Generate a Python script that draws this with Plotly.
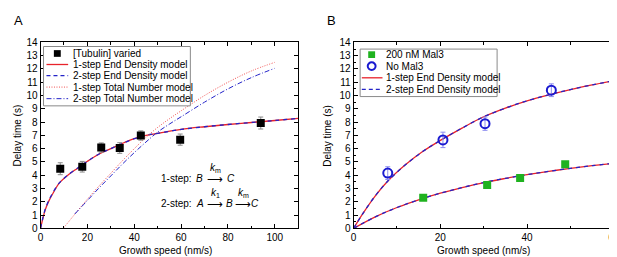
import plotly.graph_objects as go

W, H = 617, 257
FONT = "Arial"
RED = "#e8232b"
BLUE = "#2323c8"

# ---------------- Panel A data ----------------
a_speed = [8.4, 17.8, 25.9, 33.8, 42.8, 59.6, 94.0]
a_delay = [4.49, 4.64, 6.08, 6.05, 6.99, 6.68, 7.93]
a_err = [0.45, 0.4, 0.35, 0.4, 0.35, 0.42, 0.45]

a_ed_v = [0, 1, 2, 3.5, 5, 8, 12, 16, 20, 25, 30, 35, 40, 45, 50, 60, 70, 80, 90, 100, 110]
a_ed1_t = [0, 0.75, 1.4, 2.05, 2.55, 3.4, 4.05, 4.55, 5.05, 5.6, 6.0, 6.4, 6.75, 7.0, 7.15, 7.45, 7.65, 7.82, 7.97, 8.12, 8.28]
a_ed2_t = [0, 0.8, 1.45, 2.1, 2.6, 3.42, 4.06, 4.56, 5.05, 5.6, 6.0, 6.4, 6.75, 7.0, 7.15, 7.45, 7.65, 7.82, 7.97, 8.12, 8.28]

a_tn1_v = [9.7, 15, 20, 25, 30, 35, 40, 45, 50, 55, 60, 70, 80, 90, 100]
a_tn1_t = [0, 1.15, 2.2, 3.2, 4.15, 5.1, 6.0, 6.85, 7.6, 8.25, 8.85, 10.0, 11.0, 11.85, 12.5]

a_tn2_v = [14.6, 20, 25, 30, 35, 40, 45, 50, 55, 60, 70, 80, 90, 100]
a_tn2_t = [1.08, 2.1, 3.05, 3.95, 4.85, 5.7, 6.5, 7.25, 7.85, 8.4, 9.5, 10.5, 11.35, 12.05]

# ---------------- Panel B data ----------------
b_mal_speed = [16.05, 30.8, 38.4, 48.8]
b_mal_delay = [2.31, 3.27, 3.8, 4.83]
b_mal_err = [0.15, 0.15, 0.15, 0.15]

b_no_speed = [7.87, 20.6, 30.3, 45.6]
b_no_delay = [4.16, 6.66, 7.88, 10.4]
b_no_err = [0.48, 0.58, 0.5, 0.48]

b_no_v = [0, 2, 5, 8, 12, 16, 20, 25, 30, 35, 40, 45, 50, 55, 60]
b_no_t = [0, 1.05, 2.45, 3.6, 4.8, 5.8, 6.62, 7.55, 8.4, 9.05, 9.6, 10.05, 10.45, 10.8, 11.12]

b_mal_v = [0, 5, 10, 15, 20, 25, 30, 35, 40, 45, 50, 55, 60]
b_mal_t = [0, 0.87, 1.57, 2.15, 2.65, 3.07, 3.45, 3.76, 4.04, 4.29, 4.52, 4.72, 4.9]

legend_a = ["[Tubulin] varied", "1-step End Density model", "2-step End Density model",
            "1-step Total Number model", "2-step Total Number model"]
legend_b = ["200 nM Mal3", "No Mal3", "1-step End Density model", "2-step End Density model"]


def px(x):
    return x / W


def py(y):
    return 1 - y / H


fig = go.Figure()

# Panel A traces
fig.add_trace(go.Scatter(x=a_ed_v, y=a_ed1_t, mode="lines", line=dict(color=RED, width=1.3, shape="spline"),
                         xaxis="x", yaxis="y"))
fig.add_trace(go.Scatter(x=a_ed_v, y=a_ed2_t, mode="lines", line=dict(color=BLUE, width=1.3, dash="4px,4px", shape="spline"),
                         xaxis="x", yaxis="y"))
fig.add_trace(go.Scatter(x=a_tn1_v, y=a_tn1_t, mode="lines", line=dict(color="#f05050", width=1, dash="1px,1.5px", shape="spline"),
                         xaxis="x", yaxis="y"))
fig.add_trace(go.Scatter(x=a_tn2_v, y=a_tn2_t, mode="lines", line=dict(color=BLUE, width=1, dash="5px,2px,1px,2px", shape="spline"),
                         xaxis="x", yaxis="y"))
fig.add_trace(go.Scatter(x=a_speed, y=a_delay, mode="markers",
                         marker=dict(symbol="square", size=8, color="black"),
                         error_y=dict(type="data", array=a_err, color="#8a8a8a", thickness=1, width=2.5),
                         xaxis="x", yaxis="y"))

# Panel B traces
for v, t in [(b_no_v, b_no_t), (b_mal_v, b_mal_t)]:
    fig.add_trace(go.Scatter(x=v, y=t, mode="lines", line=dict(color=RED, width=1.3, shape="spline"),
                             xaxis="x2", yaxis="y2"))
    fig.add_trace(go.Scatter(x=v, y=t, mode="lines", line=dict(color=BLUE, width=1.3, dash="4px,4px", shape="spline"),
                             xaxis="x2", yaxis="y2"))
fig.add_trace(go.Scatter(x=b_mal_speed, y=b_mal_delay, mode="markers",
                         marker=dict(symbol="square", size=8, color="#1fb21f"),
                         error_y=dict(type="data", array=b_mal_err, color="#9ee09e", thickness=1.5, width=3),
                         error_x=dict(type="data", array=[0.6] * 4, color="#9ee09e", thickness=1.5, width=3),
                         xaxis="x2", yaxis="y2"))
fig.add_trace(go.Scatter(x=b_no_speed, y=b_no_delay, mode="markers",
                         marker=dict(symbol="circle-open", size=9, color="#1a1ad0", line=dict(width=2)),
                         error_y=dict(type="data", array=b_no_err, color="#8c8cf0", thickness=1, width=2.5),
                         xaxis="x2", yaxis="y2"))

axis_common = dict(showline=True, linecolor="black", linewidth=1, mirror="ticks", ticks="inside",
                   ticklen=4, tickcolor="black", showgrid=False, zeroline=False,
                   ticklabeloverflow="allow",
                   tickfont=dict(family=FONT, size=10, color="black"))

fig.update_layout(
    width=W, height=H, margin=dict(l=0, r=0, t=0, b=0),
    paper_bgcolor="white", plot_bgcolor="white", showlegend=False,
    font=dict(family=FONT),
    xaxis=dict(domain=[px(30), px(291.5)], range=[0, 110], dtick=20, tick0=0,
               minor=dict(dtick=10, ticks="inside", ticklen=2.5, tickcolor="black"),
               anchor="y", **axis_common),
    yaxis=dict(domain=[py(225), py(30.7)], range=[0, 14], dtick=1, tick0=0, anchor="x", **axis_common),
    xaxis2=dict(domain=[px(347.7), px(611.7)], range=[0, 60], dtick=20, tick0=0,
                minor=dict(dtick=10, ticks="inside", ticklen=2.5, tickcolor="black"),
                anchor="y2", **axis_common),
    yaxis2=dict(domain=[py(225), py(30.7)], range=[0, 14], dtick=1, tick0=0,
                minor=dict(dtick=0.5, ticks="inside", ticklen=2.5, tickcolor="black"),
                anchor="x2", **axis_common),
)

shapes = []
annots = []


def text(x, y, s, size=10, xanchor="left", angle=0):
    annots.append(dict(x=px(x), y=py(y), xref="paper", yref="paper", text=s, showarrow=False,
                       xanchor=xanchor, yanchor="middle", textangle=angle,
                       font=dict(family=FONT, size=size, color="black")))


# axis titles
text(157, 248, "Growth speed (nm/s)", xanchor="center")
text(480, 248, "Growth speed (nm/s)", xanchor="center")
text(7, 128, "Delay time (s)", xanchor="center", angle=-90)
text(321, 128, "Delay time (s)", xanchor="center", angle=-90)
# panel letters
text(8, 8, "A", size=13, xanchor="center")
text(325, 8, "B", size=13, xanchor="center")

# reaction schemes
text(186, 173.3, "1-step:", xanchor="right")
text(191, 173.3, "<i>B</i>", xanchor="center")
text(207, 173.3, "⟶", size=11, xanchor="center")
text(223, 173.3, "<i>C</i>", xanchor="center")
text(208, 162, "<i>k</i><sub>m</sub>", xanchor="center")

text(186, 199.3, "2-step:", xanchor="right")
text(192, 199.3, "<i>A</i>", xanchor="center")
text(207, 199.3, "⟶", size=11, xanchor="center")
text(221.5, 199.3, "<i>B</i>", xanchor="center")
text(235, 199.3, "⟶", size=11, xanchor="center")
text(248, 199.3, "<i>C</i>", xanchor="center")
text(208, 188, "<i>k</i><sub>1</sub>", xanchor="center")
text(236, 188, "<i>k</i><sub>m</sub>", xanchor="center")


def hline(x0, x1, y, color, dash, width=1.3):
    shapes.append(dict(type="line", xref="paper", yref="paper", x0=px(x0), x1=px(x1), y0=py(y), y1=py(y),
                       line=dict(color=color, width=width, dash=dash), layer="above"))


# Legend A
shapes.append(dict(type="rect", xref="paper", yref="paper", x0=px(33), x1=px(182), y0=py(35), y1=py(97),
                   line=dict(color="#8a8a8a", width=1), fillcolor="white", layer="above"))
rows_a = [42.3, 53.8, 65.5, 77.4, 89.5]
shapes.append(dict(type="rect", xref="paper", yref="paper", x0=px(43.5), x1=px(50.5),
                   y0=py(rows_a[0] - 3.5), y1=py(rows_a[0] + 3.5), line=dict(width=0), fillcolor="black",
                   layer="above"))
hline(36, 58, rows_a[1], RED, "solid")
hline(36, 58, rows_a[2], BLUE, "4px,3px")
hline(36, 58, rows_a[3], "#f05050", "1px,1.5px", 1)
hline(36, 58, rows_a[4], BLUE, "5px,2px,1px,2px", 1)
for r, lab in zip(rows_a, legend_a):
    text(61, r, lab)

# Legend B
shapes.append(dict(type="rect", xref="paper", yref="paper", x0=px(354.3), x1=px(493.3), y0=py(37.7), y1=py(87.3),
                   line=dict(color="#8a8a8a", width=1), fillcolor="white", layer="above"))
rows_b = [43.5, 55.5, 67.7, 79.8]
shapes.append(dict(type="rect", xref="paper", yref="paper", x0=px(362.5), x1=px(369.5),
                   y0=py(rows_b[0] - 3.5), y1=py(rows_b[0] + 3.5), line=dict(width=0), fillcolor="#1fb21f",
                   layer="above"))
shapes.append(dict(type="circle", xref="paper", yref="paper", x0=px(362), x1=px(370),
                   y0=py(rows_b[1] - 4), y1=py(rows_b[1] + 4), line=dict(color="#1a1ad0", width=2),
                   fillcolor="rgba(0,0,0,0)", layer="above"))
hline(356, 377, rows_b[2], RED, "solid")
hline(356, 377, rows_b[3], BLUE, "4px,3px")
for r, lab in zip(rows_b, legend_b):
    text(379, r, lab)

fig.update_layout(shapes=shapes, annotations=annots)
fig.write_html("out.html")
